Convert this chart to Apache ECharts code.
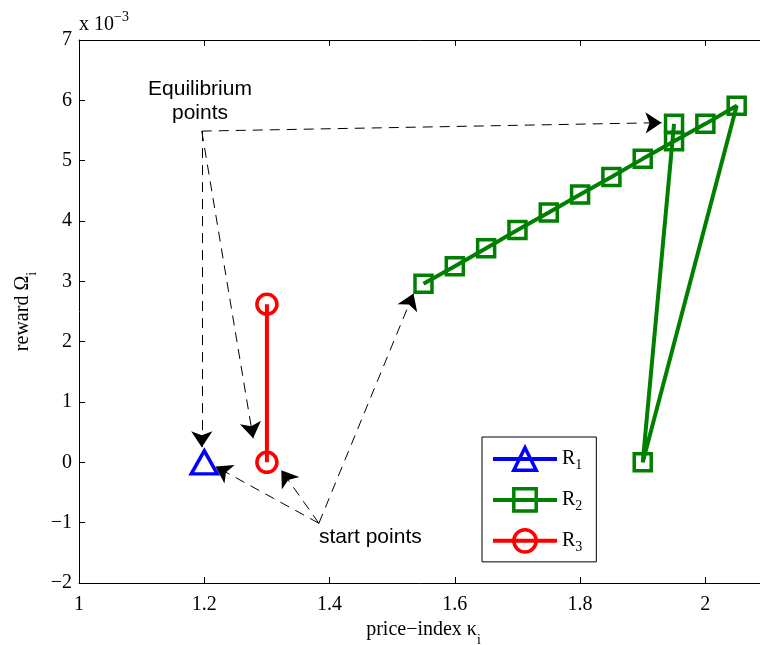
<!DOCTYPE html>
<html>
<head>
<meta charset="utf-8">
<script src="https://cdn.jsdelivr.net/npm/echarts@6/dist/echarts.min.js"></script>
<style>
  html, body { margin: 0; padding: 0; background: #fff; }
  #chart { width: 760px; height: 645px; }
</style>
</head>
<body>
<div id="chart"></div>
<script>
// values of Omega are in units of 1e-3 (see "x 10^-3" above the axis)
var r1Points = [[1.2, 0]];
var r2Points = [
  [1.55, 2.96], [1.6, 3.25], [1.65, 3.55], [1.7, 3.85], [1.75, 4.14],
  [1.8, 4.44], [1.85, 4.73], [1.9, 5.03], [1.95, 5.32], [2.0, 5.61],
  [2.05, 5.91], [1.9, 0], [1.95, 5.61]
];
var r3Points = [[1.3, 0], [1.3, 2.62]];

// dashed annotation arrows (from label anchor to the marker)
var eqArrows = [
  [[1.196, 5.49], [1.93, 5.63]],
  [[1.196, 5.49], [1.196, 0.25]],
  [[1.196, 5.49], [1.278, 0.40]]
];
var startArrows = [
  [[1.383, -1.01], [1.218, -0.07]],
  [[1.383, -1.01], [1.323, -0.13]],
  [[1.383, -1.01], [1.534, 2.80]]
];

var xTicks = { min: 1, max: 2.1, step: 0.2 };
var yTicks = { min: -2, max: 7, step: 1 };

var serif = "Liberation Serif";
var sans = "Liberation Sans";

var chart = echarts.init(document.getElementById("chart"));

var subRich = {
  sub: { fontFamily: serif, fontSize: 14, lineHeight: 34, verticalAlign: "bottom" }
};

function markerSeries(name, data, symbol, size, color, lineWidth) {
  return {
    name: name,
    type: "line",
    data: data,
    symbol: symbol,
    symbolSize: size,
    showSymbol: true,
    lineStyle: { color: color, width: lineWidth },
    itemStyle: { color: "rgba(255,255,255,0)", borderColor: color, borderWidth: 3.5 },
    emphasis: { disabled: true },
    z: 3
  };
}

function arrowSeries(list) {
  return {
    type: "lines",
    coordinateSystem: "cartesian2d",
    data: list.map(function (c) { return { coords: c }; }),
    lineStyle: { color: "#000", width: 1, type: [10, 7], opacity: 1, curveness: 0 },
    symbol: ["none", "arrow"],
    symbolSize: 16,
    silent: true,
    z: 2
  };
}

chart.setOption({
  animation: false,
  backgroundColor: "#fff",
  grid: { left: 79, top: 40, width: 689, bottom: 62, outerBoundsMode: "none", containLabel: false },
  xAxis: [
    {
      type: "value",
      min: xTicks.min, max: xTicks.max, interval: xTicks.step,
      name: "price\u2212index \u03ba{sub|i}",
      nameLocation: "middle",
      nameGap: 26,
      nameTextStyle: { fontFamily: serif, fontSize: 20, color: "#000", rich: subRich },
      axisLine: { onZero: false, lineStyle: { color: "#000", width: 1 } },
      axisTick: { inside: true, length: 6, lineStyle: { color: "#000" } },
      axisLabel: {
        fontFamily: serif, fontSize: 20, color: "#000", margin: 12,
        formatter: function (v) { return v > 2.05 ? "" : String(v); }
      },
      splitLine: { show: false }
    },
    {
      type: "value", position: "top",
      min: xTicks.min, max: xTicks.max, interval: xTicks.step,
      axisLine: { onZero: false, lineStyle: { color: "#000", width: 1 } },
      axisTick: { inside: true, length: 6, lineStyle: { color: "#000" } },
      axisLabel: { show: false },
      splitLine: { show: false }
    }
  ],
  yAxis: [
    {
      type: "value",
      min: yTicks.min, max: yTicks.max, interval: yTicks.step,
      name: "reward \u03a9{sub|i}",
      nameLocation: "middle",
      nameRotate: 90,
      nameGap: 35,
      nameTextStyle: { fontFamily: serif, fontSize: 20, color: "#000", rich: subRich },
      axisLine: { onZero: false, lineStyle: { color: "#000", width: 1 } },
      axisTick: { inside: true, length: 6, lineStyle: { color: "#000" } },
      axisLabel: {
        fontFamily: serif, fontSize: 20, color: "#000", margin: 7,
        formatter: function (v) { return String(v).replace("-", "\u2212"); }
      },
      splitLine: { show: false }
    },
    {
      type: "value", position: "right",
      min: yTicks.min, max: yTicks.max, interval: yTicks.step,
      axisLine: { onZero: false, lineStyle: { color: "#000", width: 1 } },
      axisTick: { inside: true, length: 6, lineStyle: { color: "#000" } },
      axisLabel: { show: false },
      splitLine: { show: false }
    }
  ],
  legend: {
    orient: "vertical",
    left: 482,
    top: 437,
    padding: [9, 14, 8, 9],
    itemWidth: 64,
    itemHeight: 28,
    itemGap: 15,
    backgroundColor: "#fff",
    borderColor: "#000",
    borderWidth: 1,
    borderRadius: 0,
    lineStyle: { width: 4 },
    itemStyle: { borderWidth: 3.5 },
    data: ["R1", "R2", "R3"],
    formatter: function (n) { return "R{sub|" + n.slice(1) + "}"; },
    textStyle: {
      fontFamily: serif, fontSize: 20, color: "#000",
      rich: { sub: { fontFamily: serif, fontSize: 14, lineHeight: 26, verticalAlign: "bottom" } }
    }
  },
  graphic: [
    {
      type: "text", left: 79, top: 10,
      style: {
        text: "x 10{sup|\u22123}",
        font: "20px " + serif, fill: "#000",
        rich: { sup: { fontFamily: serif, fontSize: 14, lineHeight: 30, verticalAlign: "top" } }
      }
    },
    {
      type: "text", x: 200, y: 77,
      style: {
        text: "Equilibrium\npoints", font: "21px " + sans, fill: "#000",
        align: "center", lineHeight: 24
      }
    },
    {
      type: "text", x: 319, y: 527,
      style: { text: "start points", font: "21px " + sans, fill: "#000" }
    }
  ],
  series: [
    arrowSeries(eqArrows),
    arrowSeries(startArrows),
    markerSeries("R1", r1Points, "triangle", [26, 23], "#0000ff", 4),
    markerSeries("R2", r2Points, "rect", 17, "#008000", 4),
    markerSeries("R3", r3Points, "circle", 20, "#ff0000", 4)
  ]
});
</script>
</body>
</html>
